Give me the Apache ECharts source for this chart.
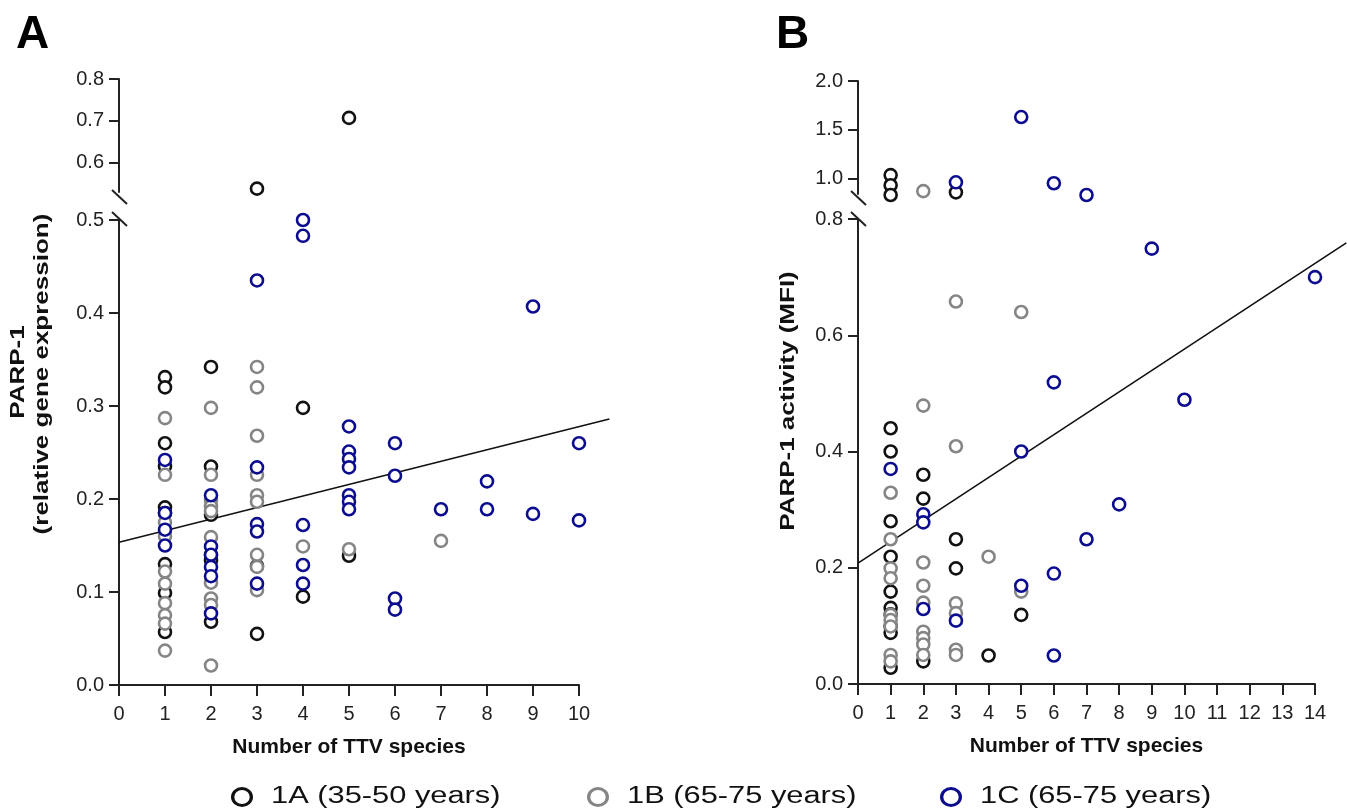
<!DOCTYPE html>
<html>
<head>
<meta charset="utf-8">
<script src="https://cdn.jsdelivr.net/npm/echarts@6/dist/echarts.min.js"></script>
<style>
  html, body { margin: 0; padding: 0; background: #fff; }
  #chart { width: 1347px; height: 809px; }
</style>
</head>
<body>
<div id="chart"></div>
<script>
// group names
const groups = ['1A (35-50 years)', '1B (65-75 years)', '1C (65-75 years)']
const groupColors = ['#111111', '#858585', '#0c0c8f']

// panel A: [number of TTV species, relative gene expression]
const a1A = [
  [1, 0.331], [1, 0.320], [1, 0.260], [1, 0.235], [1, 0.191], [1, 0.185], [1, 0.130], [1, 0.099], [1, 0.057],
  [2, 0.342], [2, 0.235], [2, 0.183], [2, 0.140], [2, 0.134], [2, 0.068],
  [3, 0.538], [3, 0.128], [3, 0.055],
  [4, 0.298], [4, 0.095],
  [5, 0.707], [5, 0.139]
]
const a1B = [
  [1, 0.287], [1, 0.226], [1, 0.175], [1, 0.160], [1, 0.122], [1, 0.109], [1, 0.088], [1, 0.075], [1, 0.066], [1, 0.037],
  [2, 0.298], [2, 0.226], [2, 0.199], [2, 0.192], [2, 0.187], [2, 0.159], [2, 0.110], [2, 0.093], [2, 0.086], [2, 0.021],
  [3, 0.342], [3, 0.320], [3, 0.268], [3, 0.226], [3, 0.204], [3, 0.197], [3, 0.140], [3, 0.127], [3, 0.102],
  [4, 0.149], [5, 0.146], [7, 0.155]
]
const a1C = [
  [1, 0.242], [1, 0.185], [1, 0.167], [1, 0.150],
  [2, 0.204], [2, 0.149], [2, 0.140], [2, 0.127], [2, 0.117], [2, 0.077],
  [3, 0.435], [3, 0.234], [3, 0.173], [3, 0.165], [3, 0.109],
  [4, 0.500], [4, 0.483], [4, 0.172], [4, 0.129], [4, 0.109],
  [5, 0.278], [5, 0.251], [5, 0.243], [5, 0.234], [5, 0.204], [5, 0.197], [5, 0.189],
  [6, 0.260], [6, 0.225], [6, 0.093], [6, 0.081],
  [7, 0.189], [8, 0.219], [8, 0.189], [9, 0.407], [9, 0.184], [10, 0.260], [10, 0.177]
]
const fitA = [[0, 0.1535], [10.66, 0.286]]

// panel B: [number of TTV species, PARP-1 activity (MFI)]
const b1A = [
  [1, 1.034], [1, 0.93], [1, 0.83], [1, 0.440], [1, 0.400], [1, 0.280], [1, 0.219], [1, 0.159], [1, 0.131],
  [1, 0.120], [1, 0.100], [1, 0.088], [1, 0.028],
  [2, 0.360], [2, 0.319], [2, 0.039],
  [3, 0.857], [3, 0.249], [3, 0.199],
  [4, 0.049], [5, 0.119]
]
const b1B = [
  [1, 0.329], [1, 0.249], [1, 0.199], [1, 0.182], [1, 0.119], [1, 0.110], [1, 0.099], [1, 0.050], [1, 0.039],
  [2, 0.87], [2, 0.479], [2, 0.209], [2, 0.169], [2, 0.140], [2, 0.090], [2, 0.079], [2, 0.068], [2, 0.050],
  [3, 0.658], [3, 0.409], [3, 0.139], [3, 0.122], [3, 0.059], [3, 0.050],
  [4, 0.219], [5, 0.640], [5, 0.159]
]
const b1C = [
  [1, 0.370],
  [2, 0.292], [2, 0.278], [2, 0.129],
  [3, 0.96], [3, 0.109],
  [5, 1.63], [5, 0.400], [5, 0.169],
  [6, 0.95], [6, 0.519], [6, 0.190], [6, 0.049],
  [7, 0.83], [7, 0.249], [8, 0.309], [9, 0.749], [10, 0.489], [14, 0.70]
]
const fitB = [[0, 0.208], [14.98, 0.759]]

// axis segments
const aLowerTicks = [0, 0.1, 0.2, 0.3, 0.4, 0.5]
const aUpperTicks = [0.6, 0.7, 0.8]
const bLowerTicks = [0, 0.2, 0.4, 0.6, 0.8]
const bUpperTicks = [1.0, 1.5, 2.0]

const FONT = 'Liberation Sans, Arial, sans-serif'
const axisColor = '#222'
// the original figure's rotated titles and legend text are stretched along the text
const STRETCH = 1.3

function xAxisOf(gridIndex, max, showIt) {
  return {
    type: 'value', gridIndex, min: 0, max, interval: 1, show: showIt,
    name: showIt ? 'Number of TTV species' : '',
    nameLocation: 'middle', nameGap: 52,
    nameTextStyle: { fontFamily: FONT, fontSize: 21, fontWeight: 'bold', color: '#111' },
    axisLine: { onZero: false, lineStyle: { color: axisColor, width: 2 } },
    axisTick: { length: 11, lineStyle: { color: axisColor, width: 2 } },
    axisLabel: { margin: 19, fontFamily: FONT, fontSize: 20, color: '#222' },
    splitLine: { show: false }
  }
}

function yAxisOf(gridIndex, min, max, ticks) {
  return {
    type: 'value', gridIndex, min, max,
    axisLine: { show: true, lineStyle: { color: axisColor, width: 2 } },
    axisTick: { show: true, length: 10, customValues: ticks, lineStyle: { color: axisColor, width: 2 } },
    axisLabel: {
      margin: 15, fontFamily: FONT, fontSize: 20, color: '#222',
      customValues: ticks, formatter: v => v.toFixed(1)
    },
    splitLine: { show: false }
  }
}

function hiddenAxis(gridIndex, min, max) {
  return { type: 'value', gridIndex, min, max, show: false, splitLine: { show: false } }
}

function scatterSeries(name, color, data, xi, yi) {
  return {
    type: 'scatter', name, xAxisIndex: xi, yAxisIndex: yi, clip: false,
    symbol: 'circle', symbolSize: 12,
    itemStyle: { color: '#fff', borderColor: color, borderWidth: 2.6, opacity: 1 },
    emphasis: { disabled: true },
    data
  }
}

function fitSeries(data, index) {
  return {
    type: 'line', xAxisIndex: index, yAxisIndex: index, data, clip: false, symbol: 'none',
    lineStyle: { color: '#111', width: 1.6 }, silent: true, z: 1
  }
}

const panelA = [a1A, a1B, a1C]
const panelB = [b1A, b1B, b1C]
const series = [fitSeries(fitA, 4), fitSeries(fitB, 5)]
groups.forEach((g, i) => {
  series.push(scatterSeries(g, groupColors[i], panelA[i].filter(p => p[1] <= 0.52), 0, 0))
  series.push(scatterSeries(g, groupColors[i], panelA[i].filter(p => p[1] > 0.52), 1, 1))
  series.push(scatterSeries(g, groupColors[i], panelB[i].filter(p => p[1] <= 0.81), 2, 2))
  series.push(scatterSeries(g, groupColors[i], panelB[i].filter(p => p[1] > 0.81), 3, 3))
})

function breakMark(x, y) {
  return { type: 'line', shape: { x1: x, y1: y, x2: x + 15, y2: y + 14 }, style: { stroke: axisColor, lineWidth: 2 } }
}

function rotatedTitle(text, x, y) {
  return {
    type: 'text', x, y, rotation: Math.PI / 2, scaleX: STRETCH,
    style: { text, font: 'bold 20px ' + FONT, fill: '#111', align: 'center', verticalAlign: 'middle' }
  }
}

// legend drawn as graphic items so the text can be stretched like the source
const legendX = [242, 598, 951]
const legendItems = []
groups.forEach((g, i) => {
  legendItems.push({
    type: 'circle', shape: { cx: legendX[i], cy: 797, r: 8.5 },
    scaleX: 1.1, originX: legendX[i], originY: 797,
    style: { fill: '#fff', stroke: groupColors[i], lineWidth: 3 }
  })
  legendItems.push({
    type: 'text', x: legendX[i] + 29, y: 797, scaleX: 1.34,
    style: { text: g, font: '23px ' + FONT, fill: '#111', align: 'left', verticalAlign: 'middle' }
  })
})

const option = {
  animation: false,
  backgroundColor: '#fff',
  grid: [
    { left: 119, top: 220, width: 460, height: 465 },
    { left: 119, top: 79, width: 460, height: 113 },
    { left: 858, top: 219, width: 457, height: 465 },
    { left: 858, top: 81, width: 457, height: 113 },
    // same scales as the lower grids, wider, for the fit lines that run past the last tick
    { left: 119, top: 220, width: 506, height: 465 },
    { left: 858, top: 219, width: 489.6, height: 465 }
  ],
  xAxis: [
    xAxisOf(0, 10, true), xAxisOf(1, 10, false), xAxisOf(2, 14, true), xAxisOf(3, 14, false),
    hiddenAxis(4, 0, 11), hiddenAxis(5, 0, 15)
  ],
  yAxis: [
    yAxisOf(0, 0, 0.5, aLowerTicks),
    yAxisOf(1, 0.53, 0.8, aUpperTicks),
    yAxisOf(2, 0, 0.8, bLowerTicks),
    yAxisOf(3, 0.84, 2.0, bUpperTicks),
    hiddenAxis(4, 0, 0.5),
    hiddenAxis(5, 0, 0.8)
  ],
  graphic: [
    { type: 'text', left: 16, top: 12, style: { text: 'A', font: 'bold 46px ' + FONT, fill: '#000' } },
    { type: 'text', left: 776, top: 12, style: { text: 'B', font: 'bold 46px ' + FONT, fill: '#000' } },
    rotatedTitle('PARP-1', 18, 372),
    rotatedTitle('(relative gene expression)', 42, 374),
    rotatedTitle('PARP-1 activity (MFI)', 788, 401),
    breakMark(112, 190), breakMark(112, 212),
    breakMark(851, 191), breakMark(851, 212)
  ].concat(legendItems),
  series
}

const chart = echarts.init(document.getElementById('chart'))
chart.setOption(option)
</script>
</body>
</html>
